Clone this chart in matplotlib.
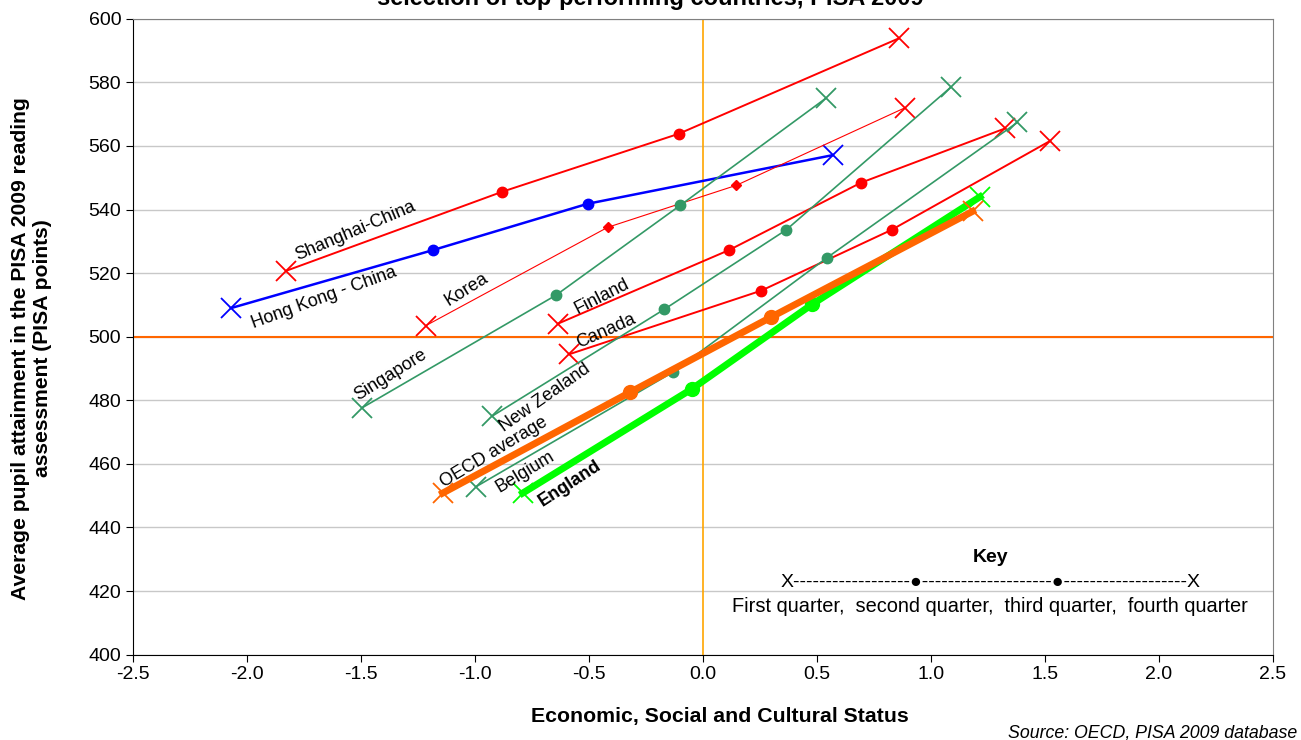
import matplotlib.pyplot as plt
import numpy as np

plt.rcParams['font.family'] = ['Liberation Sans', 'DejaVu Sans']

# ESCS (x) and reading score (y) at the four quarter points, per country
countries = ['Shanghai-China', 'Hong Kong - China', 'Korea', 'Singapore', 'Finland',
             'Canada', 'New Zealand', 'Belgium', 'England', 'OECD average']

escs = {
    'Shanghai-China':    [-1.829, -0.880, -0.107, 0.858],
    'Hong Kong - China': [-2.070, -1.186, -0.506, 0.569],
    'Korea':             [-1.215, -0.418, 0.146, 0.886],
    'Singapore':         [-1.496, -0.646, -0.100, 0.539],
    'Finland':           [-0.636, 0.116, 0.692, 1.325],
    'Canada':            [-0.586, 0.256, 0.827, 1.523],
    'New Zealand':       [-0.925, -0.170, 0.365, 1.086],
    'Belgium':           [-0.996, -0.133, 0.543, 1.379],
    'England':           [-0.791, -0.048, 0.479, 1.215],
    'OECD average':      [-1.142, -0.320, 0.300, 1.182],
}
reading = {
    'Shanghai-China':    [520.7, 545.6, 563.8, 593.8],
    'Hong Kong - China': [509.0, 527.2, 541.8, 557.1],
    'Korea':             [503.5, 534.4, 547.6, 572.0],
    'Singapore':         [477.6, 513.0, 541.3, 575.0],
    'Finland':           [504.1, 527.3, 548.4, 565.5],
    'Canada':            [494.5, 514.5, 533.6, 561.6],
    'New Zealand':       [475.0, 508.6, 533.6, 578.4],
    'Belgium':           [452.8, 488.8, 524.8, 567.4],
    'England':           [450.8, 483.6, 510.2, 544.0],
    'OECD average':      [450.8, 482.5, 506.2, 539.4],
}

# (colour, line width, middle marker, middle marker size)
style = {
    'Shanghai-China':    ('#FF0000', 1.4, 'o', 7.5),
    'Hong Kong - China': ('#0000FF', 1.8, 'o', 7.5),
    'Korea':             ('#FF0000', 0.8, 'D', 5),
    'Singapore':         ('#339966', 1.2, 'o', 7.5),
    'Finland':           ('#FF0000', 1.4, 'o', 7.5),
    'Canada':            ('#FF0000', 1.4, 'o', 7.5),
    'New Zealand':       ('#339966', 1.2, 'o', 7.5),
    'Belgium':           ('#339966', 1.2, 'o', 7.5),
    'England':           ('#00FF00', 5.0, 'o', 10),
    'OECD average':      ('#FF6600', 5.0, 'o', 10),
}

# label anchor (x, y) and rotation
labels = {
    'Shanghai-China':    (-1.526, 533.2, 23),
    'Hong Kong - China': (-1.662, 512.2, 20),
    'Korea':             (-1.039, 514.7, 32),
    'Singapore':         (-1.368, 488.0, 32),
    'Finland':           (-0.443, 512.5, 27),
    'Canada':            (-0.425, 501.8, 24),
    'New Zealand':       (-0.693, 480.7, 35),
    'Belgium':           (-0.781, 457.4, 31),
    'England':           (-0.583, 453.7, 33),
    'OECD average':      (-0.917, 463.7, 31),
}

fig = plt.figure(figsize=(13.01, 7.40), dpi=100)
ax = fig.add_axes([0.1022, 0.1153, 0.8763, 0.8594])

ax.set_xlim(-2.5, 2.5)
ax.set_ylim(400, 600)
ax.set_xticks(np.arange(-2.5, 2.51, 0.5))
ax.set_yticks(np.arange(400, 601, 20))
ax.set_xticklabels([f"{v:.1f}" for v in np.arange(-2.5, 2.51, 0.5)])
ax.tick_params(labelsize=14, length=5, direction='out')
ax.grid(axis='y', color='#C8C8C8', lw=1.0)
ax.set_axisbelow(True)
for s in ['top', 'right']:
    ax.spines[s].set_color('#808080')
for s in ['left', 'bottom']:
    ax.spines[s].set_color('black')

ax.axhline(500, color='#FF6600', lw=1.5, zorder=1)
ax.axvline(0, color='#FFA500', lw=1.2, zorder=1)

for c in countries:
    col, lw, mk, ms = style[c]
    x = escs[c]
    y = reading[c]
    z = 2
    if c == 'England':
        z = 3
    if c == 'OECD average':
        z = 4
    ax.plot(x, y, color=col, lw=lw, zorder=z)
    ax.plot(x[1:3], y[1:3], ls='none', marker=mk, ms=ms, color=col, zorder=z)
    ax.plot([x[0], x[3]], [y[0], y[3]], ls='none', marker='x', ms=14, mew=1.3,
            color=col, zorder=z)
    lx, ly, rot = labels[c]
    ax.text(lx, ly, c, rotation=rot, rotation_mode='anchor', ha='center', va='center',
            fontsize=13, fontweight='bold' if c == 'England' else 'normal', zorder=5)

# key
ax.text(1.263, 430.7, 'Key', ha='center', va='center', fontsize=14, fontweight='bold')
ax.text(1.26, 422.6, 'X' + '-' * 18 + '●' + '-' * 20 + '●' + '-' * 19 + 'X',
        ha='center', va='center', fontsize=14)
ax.text(1.26, 415.1, 'First quarter,  second quarter,  third quarter,  fourth quarter',
        ha='center', va='center', fontsize=14.4)

ax.set_xlabel('Economic, Social and Cultural Status', fontsize=15.3, fontweight='bold')
ax.xaxis.set_label_coords(0.515, -0.083)
ax.set_ylabel('Average pupil attainment in the PISA 2009 reading\nassessment (PISA points)',
              fontsize=15.2, fontweight='bold')
ax.yaxis.set_label_coords(-0.071, 0.482)

fig.text(0.5, 0.9932, 'selection of top-performing countries, PISA 2009', ha='center',
         va='baseline', fontsize=17, fontweight='bold')
fig.text(0.997, 0.0095, 'Source: OECD, PISA 2009 database', ha='right', va='center',
         fontsize=12.8, style='italic')

plt.savefig('out.png', dpi=100)
